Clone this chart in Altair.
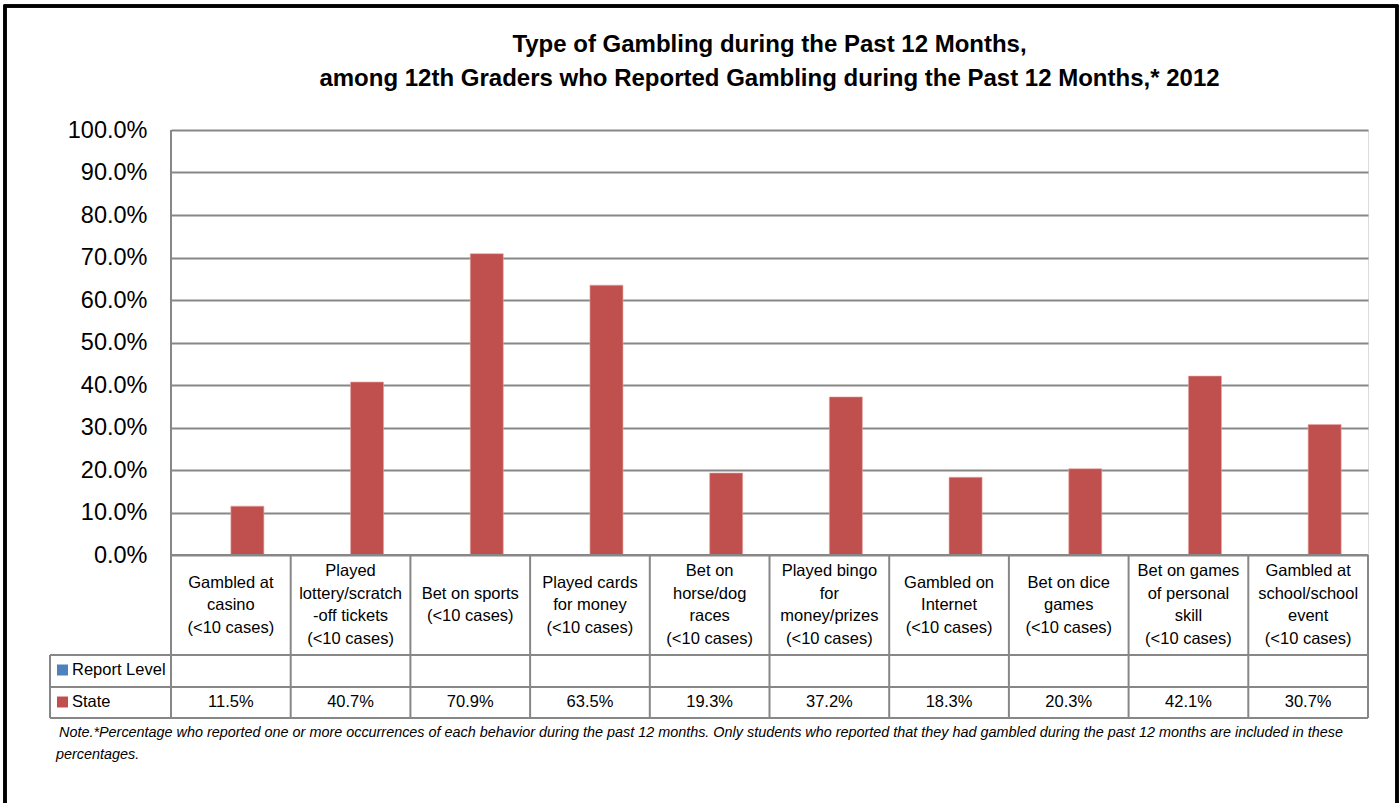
import altair as alt
import pandas as pd

categories = [
    "Gambled at\ncasino\n(<10 cases)",
    "Played\nlottery/scratch\n-off tickets\n(<10 cases)",
    "Bet on sports\n(<10 cases)",
    "Played cards\nfor money\n(<10 cases)",
    "Bet on\nhorse/dog\nraces\n(<10 cases)",
    "Played bingo\nfor\nmoney/prizes\n(<10 cases)",
    "Gambled on\nInternet\n(<10 cases)",
    "Bet on dice\ngames\n(<10 cases)",
    "Bet on games\nof personal\nskill\n(<10 cases)",
    "Gambled at\nschool/school\nevent\n(<10 cases)",
]
state_values = [11.5, 40.7, 70.9, 63.5, 19.3, 37.2, 18.3, 20.3, 42.1, 30.7]
report_level_values = [None] * 10
series = ["Report Level", "State"]
series_colors = ["#4F81BD", "#C0504D"]
y_ticks = [0, 10, 20, 30, 40, 50, 60, 70, 80, 90, 100]
title_lines = [
    "Type of Gambling during the Past 12 Months,",
    "among 12th Graders who Reported Gambling during the Past 12 Months,* 2012",
]
note_line1 = (" Note.*Percentage  who reported one or more occurrences of each behavior during the past 12 months. "
              "Only students who reported that they had gambled during the past 12 months are included in these")
note_line2 = "percentages."

FONT = "'Liberation Sans Narrow', 'Arial Narrow', 'Liberation Sans', Arial, sans-serif"
W, H = 1197, 425
GRID = "#878787"
LH = 22.5

rows = []
for c, s, r in zip(categories, state_values, report_level_values):
    rows.append({"cat": c, "series": "Report Level", "value": r})
    rows.append({"cat": c, "series": "State", "value": s})
df = pd.DataFrame(rows)
df_state = pd.DataFrame({"cat": categories, "value": state_values,
                         "label": [f"{v:.1f}%" for v in state_values]})
df_cat = pd.DataFrame({"cat": categories,
                       "ty": [475 - (c.count("\n")) / 2 * LH for c in categories]})
df_legend = pd.DataFrame({"series": series, "color": series_colors,
                          "ypos": [540, 572]})

xscale = alt.Scale(domain=categories, paddingInner=0, paddingOuter=0)

bars = alt.Chart(df).mark_bar(stroke="#E8A8A6", strokeWidth=0.6).encode(
    x=alt.X("cat:N", scale=xscale, axis=None, sort=categories),
    xOffset=alt.XOffset("series:N", scale=alt.Scale(domain=series, paddingInner=0, paddingOuter=0.8116)),
    y=alt.Y("value:Q", scale=alt.Scale(domain=[0, 100]),
            axis=alt.Axis(values=y_ticks, labelExpr="format(datum.value, '.1f') + '%'",
                          title=None, ticks=False, domain=False, grid=True,
                          gridColor=GRID, gridWidth=2, labelFont=FONT, labelFontSize=23.5,
                          labelColor="black", labelPadding=24)),
    color=alt.Color("series:N", scale=alt.Scale(domain=series, range=series_colors), legend=None),
)

base_cat = alt.Chart(df_cat)

vlines = base_cat.mark_rule(color=GRID, strokeWidth=2).encode(
    x=alt.X("cat:N", scale=xscale, axis=None, sort=categories, bandPosition=0),
    y=alt.value(425), y2=alt.value(588),
)
right_line = base_cat.mark_rule(color=GRID, strokeWidth=2).encode(
    x=alt.value(W), y=alt.value(425), y2=alt.value(588))
left_line = base_cat.mark_rule(color=GRID, strokeWidth=2).encode(
    x=alt.value(0), y=alt.value(0), y2=alt.value(588))
legend_left = base_cat.mark_rule(color=GRID, strokeWidth=2).encode(
    x=alt.value(-121), y=alt.value(525), y2=alt.value(588))
hl_df = pd.DataFrame({"yy": [525, 557, 588]})
hlines = alt.Chart(hl_df).mark_rule(color=GRID, strokeWidth=2).encode(
    x=alt.value(-121), x2=alt.value(W), y=alt.Y("yy:Q", scale=None))
axis_line = base_cat.mark_rule(color=GRID, strokeWidth=2).encode(
    x=alt.value(0), x2=alt.value(W), y=alt.value(425))

cat_text = base_cat.mark_text(font=FONT, fontSize=16.5, lineBreak="\n", lineHeight=LH,
                              baseline="middle", align="center", color="black").encode(
    x=alt.X("cat:N", scale=xscale, axis=None, sort=categories),
    y=alt.Y("ty:Q", scale=None),
    text="cat:N",
)
val_text = alt.Chart(df_state).mark_text(font=FONT, fontSize=16.5, baseline="middle",
                                         align="center", color="black").encode(
    x=alt.X("cat:N", scale=xscale, axis=None, sort=categories),
    y=alt.value(572),
    text="label:N",
)
leg_sq = alt.Chart(df_legend).mark_square(size=121, opacity=1, filled=True).encode(
    x=alt.value(-108.5), y=alt.Y("ypos:Q", scale=None),
    color=alt.Color("color:N", scale=None),
)
leg_text = alt.Chart(df_legend).mark_text(font=FONT, fontSize=16.5, baseline="middle",
                                          align="left", color="black").encode(
    x=alt.value(-99), y=alt.Y("ypos:Q", scale=None), text="series:N")

note_df = pd.DataFrame({"t": [note_line1, note_line2], "xx": [-112, -115], "yy": [603, 625]})
note = alt.Chart(note_df).mark_text(font=FONT, fontSize=14.4, fontStyle="italic", baseline="middle",
                                    align="left", color="black").encode(
    x=alt.X("xx:Q", scale=None), y=alt.Y("yy:Q", scale=None), text="t:N")

title_df = pd.DataFrame({"t": title_lines, "yy": [-78, -44]})
title = alt.Chart(title_df).mark_text(font=FONT, fontSize=24, fontWeight="bold", baseline="alphabetic",
                                      align="center", color="black").encode(
    x=alt.value(W / 2), y=alt.Y("yy:Q", scale=None), text="t:N")

frame = base_cat.mark_rect(fill=None, stroke="black", strokeWidth=2.5).encode(
    x=alt.value(-166), x2=alt.value(1226), y=alt.value(-124), y2=alt.value(690))

chart = alt.layer(
    frame, bars, left_line, axis_line, vlines, right_line, legend_left, hlines,
    cat_text, val_text, leg_sq, leg_text, note, title,
).properties(
    width=W, height=H,
    autosize=alt.AutoSizeParams(type="none"),
    padding={"left": 171, "top": 130, "right": 32, "bottom": 248},
).configure_view(stroke=None).configure(background="white")

chart.save("out.html", embed_options={"renderer": "svg", "actions": False})
